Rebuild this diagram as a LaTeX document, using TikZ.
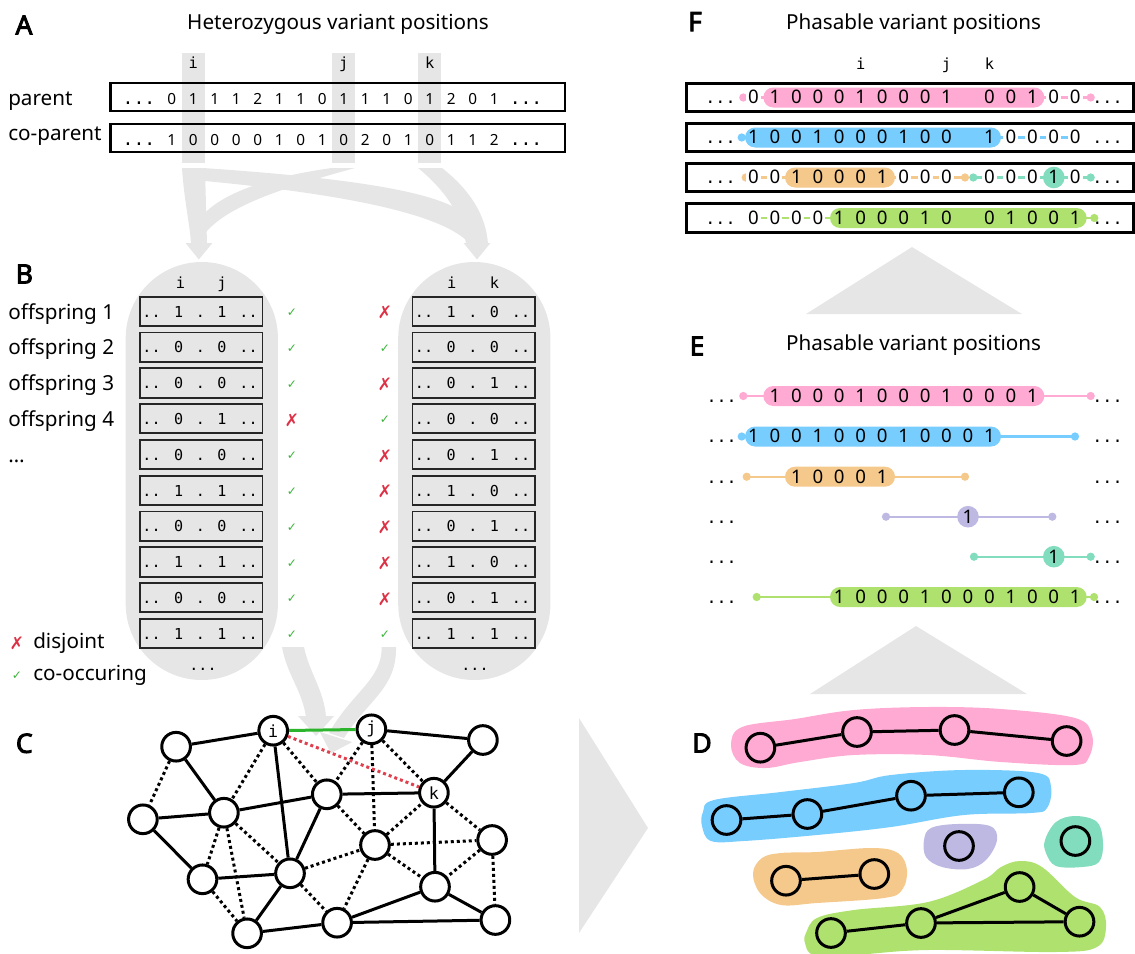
\documentclass[tikz,border=0pt]{standalone}
\usepackage{fontspec}
\setmainfont{Noto Sans}
\newfontfamily\monof{DejaVu Sans Mono}
\newfontfamily\symf{DejaVu Sans}
\newfontfamily\heavyf{Noto Sans}[FakeBold=3.2]
\usetikzlibrary{calc}

\definecolor{bandgray}{HTML}{E6E6E6}
\definecolor{cpink}{HTML}{FFAAD2}
\definecolor{cblue}{HTML}{78CDFF}
\definecolor{corange}{HTML}{F5C88C}
\definecolor{cpurple}{HTML}{BDB9E2}
\definecolor{cteal}{HTML}{82DCBE}
\definecolor{cgreen}{HTML}{AFE16E}
\definecolor{okgreen}{HTML}{3CB43C}
\definecolor{badred}{HTML}{DC3246}
\definecolor{linkgreen}{HTML}{2DB42D}
\definecolor{linkred}{HTML}{E0404E}

\newcommand{\okm}{{\color{okgreen}\symf\fontsize{9}{10}\selectfont ✓}}
\newcommand{\nom}{{\color{badred}\symf\fontsize{13}{14}\selectfont ✗}}

% digits of a haplotype row, on the common column grid
\newcommand{\hdigits}[5]{%
  \foreach \dg [count=\cnt from #3] in {#4}{%
    \node[#5] (#1\cnt) at ({753.5+21.45*\cnt},{#2+6.3}) {\dg};}}
% rounded haplotype block
\newcommand{\hblock}[4]{\fill[#1, rounded corners=7.5pt] (#2,{#4-10}) rectangle (#3,{#4+10});}
% thin track with end dots
\newcommand{\htrack}[4]{%
  \draw[trk,#1] (#2,#4) -- (#3,#4);
  \fill[#1] (#2,#4) circle (3.1pt) (#3,#4) circle (3.1pt);}

\begin{document}
\begin{tikzpicture}[x=0.75pt,y=-0.75pt,
  plabel/.style={font=\heavyf\fontsize{20}{24}\selectfont, inner sep=0pt},
  txt/.style={font=\fontsize{15.5}{18}\selectfont, inner sep=0pt},
  adig/.style={font=\fontsize{11.5}{13}\selectfont, inner sep=0pt, anchor=base},
  adots/.style={font=\monof\fontsize{13.5}{15}\selectfont, inner sep=0pt, anchor=base},
  mlbl/.style={font=\monof\fontsize{11.5}{13}\selectfont, inner sep=0pt, anchor=base},
  bdig/.style={font=\monof\fontsize{11.3}{13}\selectfont, inner sep=0pt, anchor=base},
  edig/.style={font=\fontsize{14}{16}\selectfont, inner sep=0pt, anchor=base},
  edigw/.style={edig, fill=white, inner xsep=1.6pt, inner ysep=0.6pt},
  edots/.style={font=\monof\fontsize{12.5}{14}\selectfont, inner sep=0pt, anchor=base},
  gnode/.style={circle, draw, line width=2.25pt, fill=white, minimum size=21.5pt, inner sep=0pt, font=\monof\fontsize{12.5}{14}\selectfont},
  dnode/.style={circle, draw, line width=2.25pt, minimum size=21.5pt, inner sep=0pt},
  soled/.style={line width=2.25pt},
  doted/.style={line width=2.25pt, dash pattern=on 2.25pt off 2.25pt},
  gbox/.style={draw, line width=2pt},
  bbox/.style={draw=black!85, line width=1.4pt},
  trk/.style={line width=1.75pt},
]
\useasboundingbox (0,0) rectangle (1135,953);

% ================= A =================
\node[plabel] (lA) at (24,25) {A};
\node[txt, anchor=base] (titleA) at (338,29.3) {Heterozygous variant positions};
\foreach \n/\lb in {1/i,8/j,12/k}{
  \fill[bandgray] ({171.7+21.5*\n-11.5},53) rectangle ({171.7+21.5*\n+11.5},163);
  \node[mlbl] (a\lb) at ({171.7+21.5*\n},68.5) {\lb};
}
\draw[gbox] (110.5,83) rectangle (565,111);
\draw[gbox] (110.5,124) rectangle (565,152);
\node[txt, anchor=base west] (parent) at (8,105.3) {parent};
\node[txt, anchor=base west] (coparent) at (8,140) {co-parent};
\node[adots] (pal) at (139,104.7) {...};
\node[adots] (par) at (526,104.7) {...};
\node[adots] (cpl) at (139,145.5) {...};
\node[adots] (cpr) at (526,145.5) {...};
\foreach \dg [count=\cnt from 0] in {0,1,1,1,2,1,1,0,1,1,1,0,1,2,0,1}
  \node[adig] (pa\cnt) at ({171.7+21.5*\cnt},104.7) {\dg};
\foreach \dg [count=\cnt from 0] in {1,0,0,0,0,1,0,1,0,2,0,1,0,1,1,2}
  \node[adig] (cp\cnt) at ({171.7+21.5*\cnt},145.5) {\dg};

% bands from the variant columns to the pair tables
\fill[bandgray] (182,168) .. controls (184,200) and (190,225) .. (191,244) -- (207,244) -- (205,168) -- cycle;
\fill[bandgray] (332,168) .. controls (280,175) and (225,190) .. (203,215) -- (203,236)
  .. controls (225,205) and (290,186) .. (355,168) -- cycle;
\fill[bandgray] (203,168) .. controls (320,176) and (430,188) .. (462,212) -- (470,244)
  .. controls (440,210) and (320,192) .. (205,181) -- cycle;
\fill[bandgray] (418,168) .. controls (445,190) and (462,215) .. (466,244) -- (488,244)
  .. controls (486,215) and (470,190) .. (442,168) -- cycle;
\fill[bandgray] (185.5,243) -- (212.5,243) -- (198.8,259.5) -- cycle;
\fill[bandgray] (463.5,243) -- (490.5,243) -- (477,259.5) -- cycle;

% ================= B =================
\node[plabel] (lB) at (24.3,274) {B};
\fill[bandgray, rounded corners=57pt] (125.7,262) rectangle (277.9,680);
\fill[bandgray, rounded corners=57pt] (398.2,262) rectangle (550.4,680);
\node[mlbl] (bi1) at (180.4,288.3) {i};
\node[mlbl] (bj1) at (222.1,288.3) {j};
\node[mlbl] (bi2) at (451.8,288.3) {i};
\node[mlbl] (bk2) at (494.6,288.3) {k};
\foreach \va/\vb/\vp/\vq/\mkl/\mkr [count=\rw from 0] in
  {1/1/1/0/\okm/\nom, 0/0/0/0/\okm/\okm, 0/0/0/1/\okm/\nom, 0/1/0/0/\nom/\okm,
   0/0/0/1/\okm/\nom, 1/1/1/0/\okm/\nom, 0/0/0/1/\okm/\nom, 1/1/1/0/\okm/\nom,
   0/0/0/1/\okm/\nom, 1/1/1/1/\okm/\okm}{
  \pgfmathsetmacro\ty{296.7+35.8*\rw}
  \pgfmathsetmacro\tb{\ty+20.35}
  \pgfmathsetmacro\tc{\ty+16}
  \draw[bbox] (140,\ty) rectangle (262.5,{\ty+29.3});
  \draw[bbox] (412.5,\ty) rectangle (535,{\ty+29.3});
  \node[bdig] (bla\rw) at (151.5,\tb) {..};
  \node[bdig] (blb\rw) at (178.7,\tb) {\va};
  \node[bdig] (blc\rw) at (200.4,\tb) {.};
  \node[bdig] (bld\rw) at (222,\tb) {\vb};
  \node[bdig] (ble\rw) at (248.5,\tb) {..};
  \node[bdig] (bra\rw) at (424,\tb) {..};
  \node[bdig] (brb\rw) at (451.2,\tb) {\vp};
  \node[bdig] (brc\rw) at (472.9,\tb) {.};
  \node[bdig] (brd\rw) at (494.5,\tb) {\vq};
  \node[bdig] (bre\rw) at (521,\tb) {..};
  \node[inner sep=0pt] (mkl\rw) at (292,\tc) {\mkl};
  \node[inner sep=0pt] (mkr\rw) at (385,\tc) {\mkr};
}
\foreach \kk in {1,...,4}
  \node[txt, anchor=base west] (off\kk) at (8,{319+35.8*(\kk-1)}) {offspring \kk};
\node[txt, anchor=base west] (offmore) at (8,462.6) {…};
\node[bdig, anchor=center] (bmore1) at (203,669) {...};
\node[bdig, anchor=center] (bmore2) at (475,669) {...};
\node[inner sep=0pt] (legx) at (16.8,643) {\nom};
\node[txt, anchor=base west] (legd) at (33,648.3) {disjoint};
\node[inner sep=0pt] (legc) at (16.8,676) {\okm};
\node[txt, anchor=base west] (lego) at (33,680) {co-occuring};

% bands from the pair tables into the graph
\fill[bandgray] (282,647) .. controls (287,675) and (302,690) .. (306,717) -- (326,717)
  .. controls (324,690) and (309,672) .. (304,647) -- cycle;
\fill[bandgray] (298,716) -- (334,716) -- (316,736) -- cycle;
\fill[bandgray] (381.7,647) .. controls (382,680) and (352,692) .. (329,733) -- (344,738)
  .. controls (368,700) and (397,688) .. (396,647) -- cycle;
\fill[bandgray] (319.8,731.9) -- (352.2,742.1) -- (330.9,753.2) -- cycle;

% ================= C =================
\node[plabel] (lC) at (24.3,743.3) {C};
\node[gnode] (c1) at (176.1,746.7) {};
\node[gnode] (ci) at (273.2,730.7) {i};
\node[gnode] (cj) at (371.4,729.3) {j};
\node[gnode] (c4) at (482.9,740) {};
\node[gnode] (ck) at (433.9,792.7) {k};
\node[gnode] (c6) at (142.9,819.3) {};
\node[gnode] (c7) at (223.9,812.7) {};
\node[gnode] (c8) at (326.8,794.3) {};
\node[gnode] (c9) at (375,845) {};
\node[gnode] (c10) at (492.1,840) {};
\node[gnode] (c11) at (202.5,879.3) {};
\node[gnode] (c12) at (290,873.3) {};
\node[gnode] (c13) at (435,886.7) {};
\node[gnode] (c14) at (247.1,933.3) {};
\node[gnode] (c15) at (337.1,922.7) {};
\node[gnode] (c16) at (495.4,920) {};
\foreach \ea/\eb in {c1/ci, c1/c7, c6/c7, c6/c11, c11/c12, c7/c8, ci/c12, c8/c12, c8/ck,
  cj/c4, c4/ck, ck/c13, c12/c14, c14/c15, c15/c13, c15/c16, c13/c16}
  \draw[soled] (\ea) -- (\eb);
\foreach \ea/\eb in {c1/c6, ci/c7, ci/c8, cj/c8, cj/c9, cj/ck, c7/c11, c7/c14, c7/c12,
  c11/c14, c8/c9, c12/c9, c12/c15, c9/c15, c9/ck, c9/c10, c9/c13, ck/c10, c10/c13, c10/c16}
  \draw[doted] (\ea) -- (\eb);
\draw[soled, linkgreen] (ci) -- (cj);
\draw[doted, linkred] (ci) -- (ck);

% arrows between panels
\fill[bandgray] (579,718) -- (648,828) -- (579,933) -- cycle;
\fill[bandgray] (810,694) -- (916,626) -- (1027,694) -- cycle;
\fill[bandgray] (806,314) -- (912,247) -- (1022,314) -- cycle;

% ================= D =================
\node[plabel] (lD) at (702,743) {D};
\fill[cpink] plot[smooth cycle, tension=0.6] coordinates {(731,745) (742,727) (795,719) (854,710)
  (928,707) (1001,709) (1075,718) (1092,735) (1089,757) (1074,765) (1001,762) (928,755)
  (854,755) (800,762) (766,768) (740,763)};
\fill[cblue] plot[smooth cycle, tension=0.6] coordinates {(703,812) (714,800) (781,792) (854,783)
  (891,775) (964,770) (1038,773) (1051,787) (1047,808) (1031,813) (964,815) (891,827)
  (817,835) (744,841) (711,841) (702,826)};
\fill[cpurple] plot[smooth cycle, tension=0.6] coordinates {(924,840) (931,828) (957,824)
  (990,826) (997,840) (986,860) (968,869) (942,867) (926,857)};
\fill[cteal] plot[smooth cycle, tension=0.6] coordinates {(1045,840) (1056,822) (1075,816)
  (1097,822) (1103,843) (1099,862) (1082,867) (1056,866) (1046,853)};
\fill[corange] plot[smooth cycle, tension=0.6] coordinates {(753,873) (762,858) (781,853)
  (817,852) (872,848) (898,853) (907,870) (902,890) (884,898) (817,903) (781,905) (760,893)};
\fill[cgreen] plot[smooth cycle, tension=0.6] coordinates {(806,933) (817,918) (854,910)
  (928,902) (983,880) (1001,867) (1020,861) (1042,867) (1075,897) (1100,907) (1106,927)
  (1097,947) (1056,952) (928,950) (854,955) (814,955) (805,943)};
\node[dnode] (p1) at (760.4,747.7) {};
\node[dnode] (p2) at (857,732) {};
\node[dnode] (p3) at (954.5,730) {};
\node[dnode] (p4) at (1066.6,741) {};
\node[dnode] (b1) at (726.5,820) {};
\node[dnode] (b2) at (807.4,814) {};
\node[dnode] (b3) at (911,795.7) {};
\node[dnode] (b4) at (1018.8,792.3) {};
\node[dnode] (u1) at (959,846) {};
\node[dnode] (t1) at (1075.4,841) {};
\node[dnode] (o1) at (786,880.7) {};
\node[dnode] (o2) at (874.3,874) {};
\node[dnode] (g1) at (831,933) {};
\node[dnode] (g2) at (921,923) {};
\node[dnode] (g3) at (1019.6,887) {};
\node[dnode] (g4) at (1079.5,921.7) {};
\draw[soled] (p1) -- (p2) -- (p3) -- (p4);
\draw[soled] (b1) -- (b2) -- (b3) -- (b4);
\draw[soled] (o1) -- (o2);
\draw[soled] (g1) -- (g2) -- (g3) -- (g4);
\draw[soled] (g2) -- (g4);

% ================= E =================
\node[plabel] (lE) at (697,346) {E};
\node[txt, anchor=base] (titleE) at (913.5,350.7) {Phasable variant positions};
\foreach \yy [count=\kk] in {396,436.5,476.7,516.7,556.7,597}{
  \node[edots] (edl\kk) at (721.7,{\yy+6.3}) {...};
  \node[edots] (edr\kk) at (1107.5,{\yy+6.3}) {...};
}
\htrack{cpink}{743.3}{1090.7}{396}
\hblock{cpink}{763.3}{1044.3}{396}
\hdigits{ea}{396}{1}{1,0,0,0,1,0,0,0,1,0,0,0,1}{edig}
\htrack{cblue}{741.7}{1075}{436.5}
\hblock{cblue}{745}{1001}{436.5}
\hdigits{eb}{436.5}{0}{1,0,0,1,0,0,0,1,0,0,0,1}{edig}
\htrack{corange}{746.7}{965}{476.7}
\hblock{corange}{785}{895}{476.7}
\hdigits{ec}{476.7}{2}{1,0,0,0,1}{edig}
\htrack{cpurple}{886}{1052.3}{516.7}
\fill[cpurple] (968,516.7) circle (8.1pt);
\hdigits{ed}{516.7}{10}{1}{edig}
\htrack{cteal}{974}{1090.7}{556.7}
\fill[cteal] (1053.8,556.7) circle (8.1pt);
\hdigits{ee}{556.7}{14}{1}{edig}
\htrack{cgreen}{756.7}{1094}{597}
\hblock{cgreen}{830}{1086.7}{597}
\hdigits{ef}{597}{4}{1,0,0,0,1,0,0,0,1,0,0,1}{edig}

% ================= F =================
\node[plabel] (lF) at (695,21.7) {F};
\node[txt, anchor=base] (titleF) at (913.5,29.3) {Phasable variant positions};
\node[mlbl] (flabi) at (860.75,69.3) {i};
\node[mlbl] (flabj) at (946.55,69.3) {j};
\node[mlbl] (flabk) at (989.45,69.3) {k};
\foreach \yy [count=\kk] in {97.5,137.5,177.5,218}{
  \draw[gbox] (686.5,{\yy-14.2}) rectangle (1133.5,{\yy+14.2});
  \node[edots] (fdl\kk) at (720.5,{\yy+6.3}) {...};
  \node[edots] (fdr\kk) at (1107.5,{\yy+6.3}) {...};
}
% row 1
\htrack{cpink}{743.3}{1090.7}{97.5}
\hblock{cpink}{763.3}{1044.3}{97.5}
\hdigits{fra}{97.5}{0}{0}{edigw}
\hdigits{frb}{97.5}{1}{1,0,0,0,1,0,0,0,1}{edig}
\hdigits{frc}{97.5}{11}{0,0,1}{edig}
\hdigits{frd}{97.5}{14}{0,0}{edigw}
% row 2
\htrack{cblue}{741.7}{1075}{137.5}
\hblock{cblue}{745}{1001}{137.5}
\hdigits{fsa}{137.5}{0}{1,0,0,1,0,0,0,1,0,0}{edig}
\hdigits{fsb}{137.5}{11}{1}{edig}
\hdigits{fsc}{137.5}{12}{0,0,0,0}{edigw}
% row 3
\htrack{corange}{745.7}{965}{177.5}
\hblock{corange}{785}{895}{177.5}
\htrack{cteal}{973.3}{1090.7}{177.5}
\fill[cteal] (1053.8,177.5) circle (8.1pt);
\hdigits{fta}{177.5}{0}{0,0}{edigw}
\hdigits{ftb}{177.5}{2}{1,0,0,0,1}{edig}
\hdigits{ftc}{177.5}{7}{0,0,0}{edigw}
\hdigits{ftd}{177.5}{11}{0,0,0}{edigw}
\hdigits{fte}{177.5}{14}{1}{edig}
\hdigits{ftf}{177.5}{15}{0}{edigw}
% row 4
\htrack{cgreen}{753.5}{1094.3}{218}
\hblock{cgreen}{830}{1086.7}{218}
\hdigits{fua}{218}{0}{0,0,0,0}{edigw}
\hdigits{fub}{218}{4}{1,0,0,0,1,0}{edig}
\hdigits{fuc}{218}{11}{0,1,0,0,1}{edig}
\end{tikzpicture}
\end{document}
